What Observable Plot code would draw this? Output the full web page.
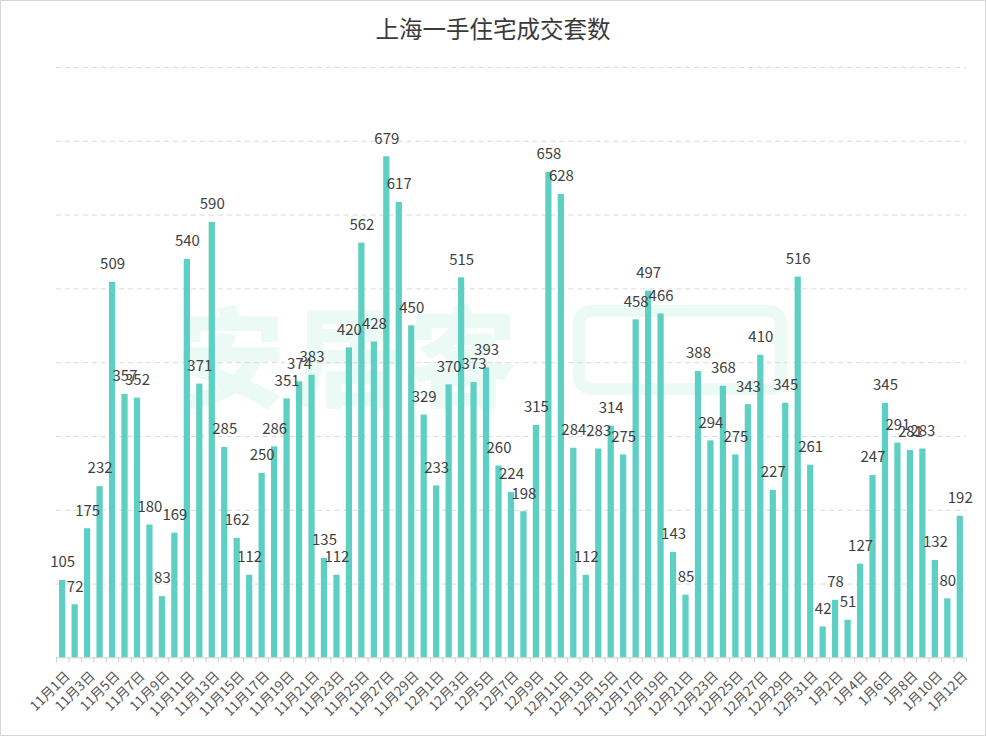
<!DOCTYPE html>
<html>
<head>
<meta charset="utf-8">
<script src="https://cdn.jsdelivr.net/npm/d3@7"></script>
<script src="https://cdn.jsdelivr.net/npm/@observablehq/plot@0.6"></script>
<style>
  html, body { margin: 0; padding: 0; background: #fff; }
  #wrap { position: relative; width: 986px; height: 736px; box-sizing: border-box; border: 1px solid #d6d6d6; overflow: hidden; font-family: "Noto Sans CJK SC", "Microsoft YaHei", sans-serif; }
  #title { position: absolute; left: 0; top: 10px; width: 100%; text-align: center; font-size: 23.5px; color: #3a3a3a; }
  #wm { position: absolute; left: 176px; top: 290px; font-size: 108px; line-height: 120px; font-weight: 900; color: #ecfaf5; letter-spacing: 8px; z-index: 0; }
  #wmbox { position: absolute; left: 572px; top: 304px; width: 190px; height: 66px; border: 12px solid #ecfaf5; border-radius: 18px; z-index: 0; }
  #chart { position: absolute; left: -1px; top: 49px; z-index: 1; }
</style>
</head>
<body>
<div id="wrap">
  <div id="title">上海一手住宅成交套数</div>
  <div id="wm">安居客</div>
  <div id="wmbox"></div>
  <div id="chart"></div>
</div>
<script>
const novDays = ["11月1日","11月2日","11月3日","11月4日","11月5日","11月6日","11月7日","11月8日","11月9日","11月10日","11月11日","11月12日","11月13日","11月14日","11月15日","11月16日","11月17日","11月18日","11月19日","11月20日","11月21日","11月22日","11月23日","11月24日","11月25日","11月26日","11月27日","11月28日","11月29日","11月30日"];
const decDays = ["12月1日","12月2日","12月3日","12月4日","12月5日","12月6日","12月7日","12月8日","12月9日","12月10日","12月11日","12月12日","12月13日","12月14日","12月15日","12月16日","12月17日","12月18日","12月19日","12月20日","12月21日","12月22日","12月23日","12月24日","12月25日","12月26日","12月27日","12月28日","12月29日","12月30日","12月31日"];
const janDays = ["1月1日","1月2日","1月3日","1月4日","1月5日","1月6日","1月7日","1月8日","1月9日","1月10日","1月11日","1月12日"];

const novValues = [105,72,175,232,509,357,352,180,83,169,540,371,590,285,162,112,250,286,351,374,383,135,112,420,562,428,679,617,450,329];
const decValues = [233,370,515,373,393,260,224,198,315,658,628,284,112,283,314,275,458,497,466,143,85,388,294,368,275,343,410,227,345,516,261];
const janValues = [42,78,51,127,247,345,291,281,283,132,80,192];

const gridValues = [100,200,300,400,500,600,700,800];

const days = [...novDays, ...decDays, ...janDays];
const values = [...novValues, ...decValues, ...janValues];
const data = days.map((d, i) => ({day: d, value: values[i]}));
const tickLabels = days.filter((d, i) => i % 2 === 0);

const W = 986, H = 687;
const mL = 56, mR = 19, mT = 17, mB = 79;
const step = (W - mL - mR) / days.length;

const chart = Plot.plot({
  width: W,
  height: H,
  marginLeft: mL,
  marginRight: mR,
  marginTop: mT,
  marginBottom: mB,
  style: {background: "transparent", fontFamily: "'Noto Sans CJK SC', sans-serif"},
  x: {domain: days, paddingInner: 0.5, paddingOuter: 0.25, align: 0.5, label: null},
  y: {domain: [0, 800], axis: null},
  marks: [
    Plot.ruleY(gridValues, {y: d => d, stroke: "#d9d9d9", strokeDasharray: "5,4", strokeWidth: 1}),
    Plot.barY(data, {x: "day", y: "value", fill: "#5dcfc3"}),
    Plot.ruleY([0], {stroke: "#cfcfcf", strokeWidth: 1}),
    Plot.ruleX(days, {x: d => d, y1: 0, y2: 0, insetBottom: -5, dx: -step / 2, stroke: "#cfcfcf"}),
    Plot.ruleX(days.slice(-1), {x: d => d, y1: 0, y2: 0, insetBottom: -5, dx: step / 2, stroke: "#cfcfcf"}),
    Plot.text(data, {x: "day", y: "value", text: d => String(d.value), dy: -18, fontSize: 15, fill: "#404040"}),
    Plot.axisX({ticks: tickLabels, tickSize: 0, tickRotate: -45, tickPadding: 16, fontSize: 13.5, fill: "#555", label: null, dx: 5})
  ]
});
document.getElementById("chart").appendChild(chart);
</script>
</body>
</html>
